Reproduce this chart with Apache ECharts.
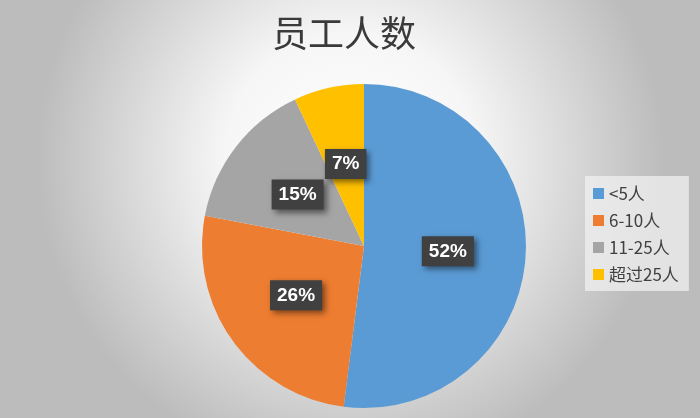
<!DOCTYPE html>
<html><head><meta charset="utf-8">
<script src="https://cdn.jsdelivr.net/npm/echarts@6/dist/echarts.min.js"></script>
<style>html,body{margin:0;padding:0;}#c{width:700px;height:418px;}</style>
</head><body><div id="c"></div>
<script>
var categories = ['<5人', '6-10人', '11-25人', '超过25人'];
var values = [52, 26, 15, 7];
var colors = ['#5B9BD5', '#ED7D31', '#A5A5A5', '#FFC000'];
var titleText = '员工人数';

var chart = echarts.init(document.getElementById('c'));
chart.setOption({
  backgroundColor: {
    type: 'radial', x: 0.5, y: 0.38, r: 0.75,
    colorStops: [{offset: 0, color: '#ffffff'}, {offset: 0.4, color: '#f6f6f6'}, {offset: 1, color: '#bcbcbc'}]
  },
  title: {
    text: titleText, left: 339, top: 10, textAlign: 'center',
    textStyle: {fontFamily: 'Noto Sans CJK SC', fontSize: 36, fontWeight: 'normal', color: '#3a3a3a'}
  },
  legend: {
    orient: 'vertical', left: 585, top: 176,
    data: categories,
    icon: 'rect', itemWidth: 11, itemHeight: 11, itemGap: 10,
    padding: [9, 10, 8, 8],
    backgroundColor: 'rgba(240,240,240,0.75)',
    textStyle: {fontFamily: 'Noto Sans CJK SC', fontSize: 17, color: '#404040'}
  },
  series: [{
    type: 'pie',
    center: [364, 246], radius: 162,
    startAngle: 90, clockwise: true,
    avoidLabelOverlap: false,
    labelLayout: {hideOverlap: false},
    data: categories.map(function (c, i) { return {name: c, value: values[i], itemStyle: {color: colors[i]}}; }),
    label: {
      position: 'inside',
      formatter: function (p) { return p.value + '%'; },
      color: '#ffffff', fontSize: 19, fontWeight: 'bold', fontFamily: 'Liberation Sans',
      backgroundColor: '#404040', padding: [6, 7, 5, 7],
      shadowColor: 'rgba(0,0,0,0.5)', shadowBlur: 6, shadowOffsetX: 3, shadowOffsetY: 3
    },
    labelLine: {show: false},
    emphasis: {disabled: true},
    animation: false
  }]
});
</script></body></html>
